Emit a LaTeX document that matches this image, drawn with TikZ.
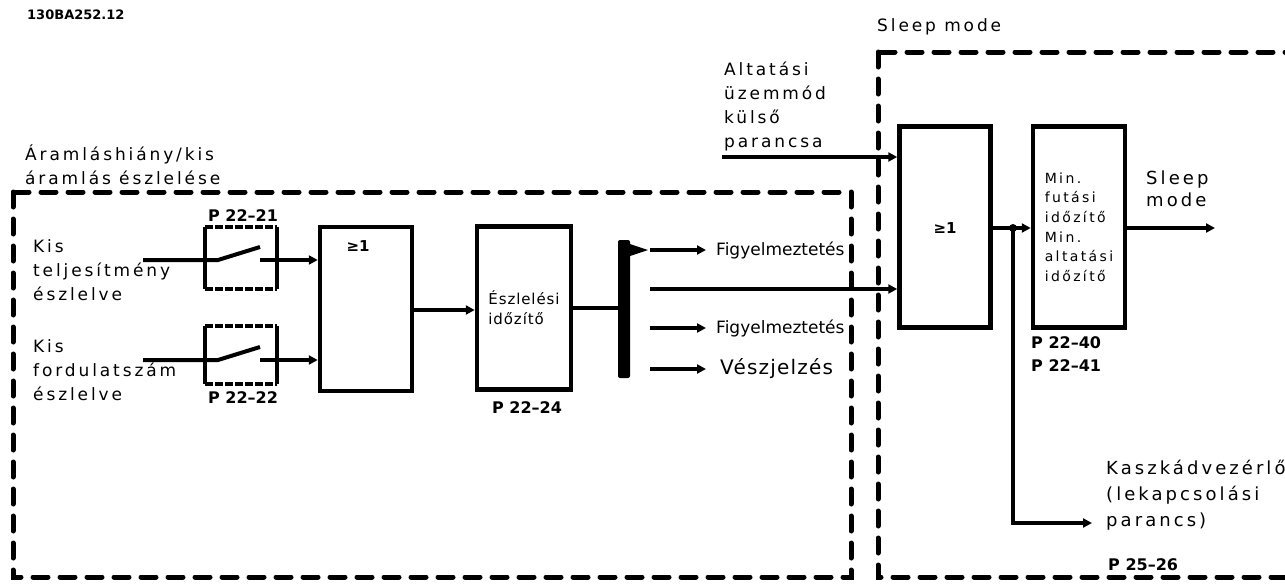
\documentclass[tikz,border=0pt]{standalone}
\usepackage{fontspec}
\setmainfont{DejaVu Sans}
\newfontfamily\spaced[LetterSpace=17]{DejaVu Sans}
\newfontfamily\lightspaced[LetterSpace=6]{DejaVu Sans}
\usetikzlibrary{arrows.meta, positioning}

\begin{document}
\begin{tikzpicture}[
    x=1pt, y=-1pt,
    group/.style={draw, line width=5pt, line cap=round, dash pattern=on 15pt off 12pt},
    block/.style={draw, line width=4.5pt, inner sep=0pt, align=left},
    link/.style={line width=4pt},
    arr/.style={line width=4pt, -{Triangle[length=9pt, width=9pt]}},
    lbl/.style={font=\spaced\fontsize{17}{24}\selectfont, align=left, inner sep=0pt, anchor=west},
    outlbl/.style={anchor=west, inner sep=0pt, inner xsep=10pt},
    parlbl/.style={font=\bfseries\fontsize{16}{23}\selectfont, inner sep=0pt, align=left},
    sym/.style={font=\bfseries\fontsize{15}{15}\selectfont, inner sep=0pt}
]
\path[use as bounding box] (0,0) rectangle (1285,584);
\clip (0,0) rectangle (1285,584);

\node[font=\bfseries\fontsize{13}{13}\selectfont, anchor=west, inner sep=0pt] (docid) at (27,15) {130BA252.12};

\draw[group] (13,192) rectangle (851,577);
\draw[group] (878,52) rectangle (1320,577);
\node[lbl] (ttlflow) at (25,165) {Áramláshiány/kis\\áramlás észlelése};
\node[lbl] (ttlsleep) at (877,27) {Sleep mode};

\node[lbl] (lowpower) at (33,270) {Kis\\teljesítmény\\észlelve};
\node[lbl] (lowspeed) at (33,370) {Kis\\fordulatszám\\észlelve};

\node[inner sep=0pt, minimum width=72pt, minimum height=62pt] (sw1) at (241,258) {};
\node[inner sep=0pt, minimum width=72pt, minimum height=58pt] (sw2) at (241,355) {};
\draw[link] (sw1.north west) -- (sw1.south west) (sw1.north east) -- (sw1.south east);
\draw[link, dash pattern=on 8pt off 2pt] (sw1.north west) -- (sw1.north east) (sw1.south west) -- (sw1.south east);
\draw[link] (sw2.north west) -- (sw2.south west) (sw2.north east) -- (sw2.south east);
\draw[link, dash pattern=on 8pt off 2pt] (sw2.north west) -- (sw2.north east) (sw2.south west) -- (sw2.south east);
\node[parlbl] (p2221) at (243,216) {P 22--21};
\node[parlbl] (p2222) at (243,398) {P 22--22};

\node[block, minimum width=92pt, minimum height=164pt] (or1) at (366,309) {};
\node[sym] (or1sym) at (358,246) {≥1};
\node[block, minimum width=94pt, minimum height=163pt, font=\lightspaced\fontsize{15}{20}\selectfont] (detect) at (524,308) {Észlelési\\időzítő};
\node[parlbl] (p2224) at (527,408) {P 22--24};

\node[fill, minimum width=12pt, minimum height=138pt, inner sep=0pt, rounded corners=2pt] (bus) at (624,309) {};

\coordinate (sw1in) at (143,260);
\coordinate (sw1a) at (218,260);
\coordinate (sw1b) at (260,247);
\coordinate (sw1c) at (260,260);
\coordinate (sw2in) at (143,360);
\coordinate (sw2a) at (218,360);
\coordinate (sw2b) at (260,347);
\coordinate (sw2c) at (260,360);
\draw[link] (sw1in) -- (sw1a) -- (sw1b);
\draw[link] (sw2in) -- (sw2a) -- (sw2b);
\draw[arr] (sw1c) -- (sw1c -| or1.west);
\draw[arr] (sw2c) -- (sw2c -| or1.west);
\draw[arr] (or1.east |- 0,310) -- (detect.west |- 0,310);
\draw[link] (detect.east |- 0,308) -- (bus.west |- 0,308);

\coordinate (out1) at (650,250);
\coordinate (out2) at (650,289);
\coordinate (out3) at (650,328);
\coordinate (out4) at (650,369);
\fill (630,244) -- (648,250) -- (630,256) -- cycle;
\node[outlbl, font=\fontsize{17}{17}\selectfont] (warn1) at (706,250) {Figyelmeztetés};
\node[outlbl, font=\fontsize{17}{17}\selectfont] (warn2) at (706,328) {Figyelmeztetés};
\node[outlbl, font=\lightspaced\fontsize{20}{20}\selectfont, inner xsep=14pt] (alarm) at (706,369) {Vészjelzés};
\draw[arr] (out1) -- (warn1.west);
\draw[arr] (out3) -- (warn2.west);
\draw[arr] (out4) -- (alarm.west);

\node[lbl] (extcmd) at (724,106) {Altatási\\üzemmód\\külső\\parancsa};
\node[block, minimum width=91pt, minimum height=201pt] (or2) at (945,227) {};
\node[sym] (or2sym) at (945,228) {≥1};
\node[block, minimum width=92pt, minimum height=201pt, font=\spaced\fontsize{14}{19.6}\selectfont] (timer) at (1079,227) {Min.\\futási\\időzítő\\Min.\\altatási\\időzítő};
\node[parlbl, anchor=north west] (p2240) at (1031,336) {P 22--40\\P 22--41};

\coordinate (extin) at (722,157);
\draw[arr] (extin) -- (extin -| or2.west);
\draw[arr] (out2) -- (out2 -| or2.west);

\coordinate (split) at (1013,228);
\coordinate (sleepend) at (1215,228);
\coordinate (cascbend) at (1013,523);
\draw[arr] (or2.east |- split) -- (timer.west |- split);
\fill (split) circle (4pt);
\node[lbl, font=\spaced\fontsize{18}{22}\selectfont] (sleepout) at (1146,189) {Sleep\\mode};
\draw[arr] (timer.east |- split) -- (sleepend);

\node[lbl, font=\spaced\fontsize{18}{26}\selectfont] (cascade) at (1106,495) {Kaszkádvezérlő\\(lekapcsolási\\parancs)};
\draw[arr, shorten >=14pt] (split) -- (cascbend) -- (cascade.west |- cascbend);
\node[parlbl, anchor=west] (p2526) at (1108,565) {P 25--26};
\end{tikzpicture}
\end{document}
